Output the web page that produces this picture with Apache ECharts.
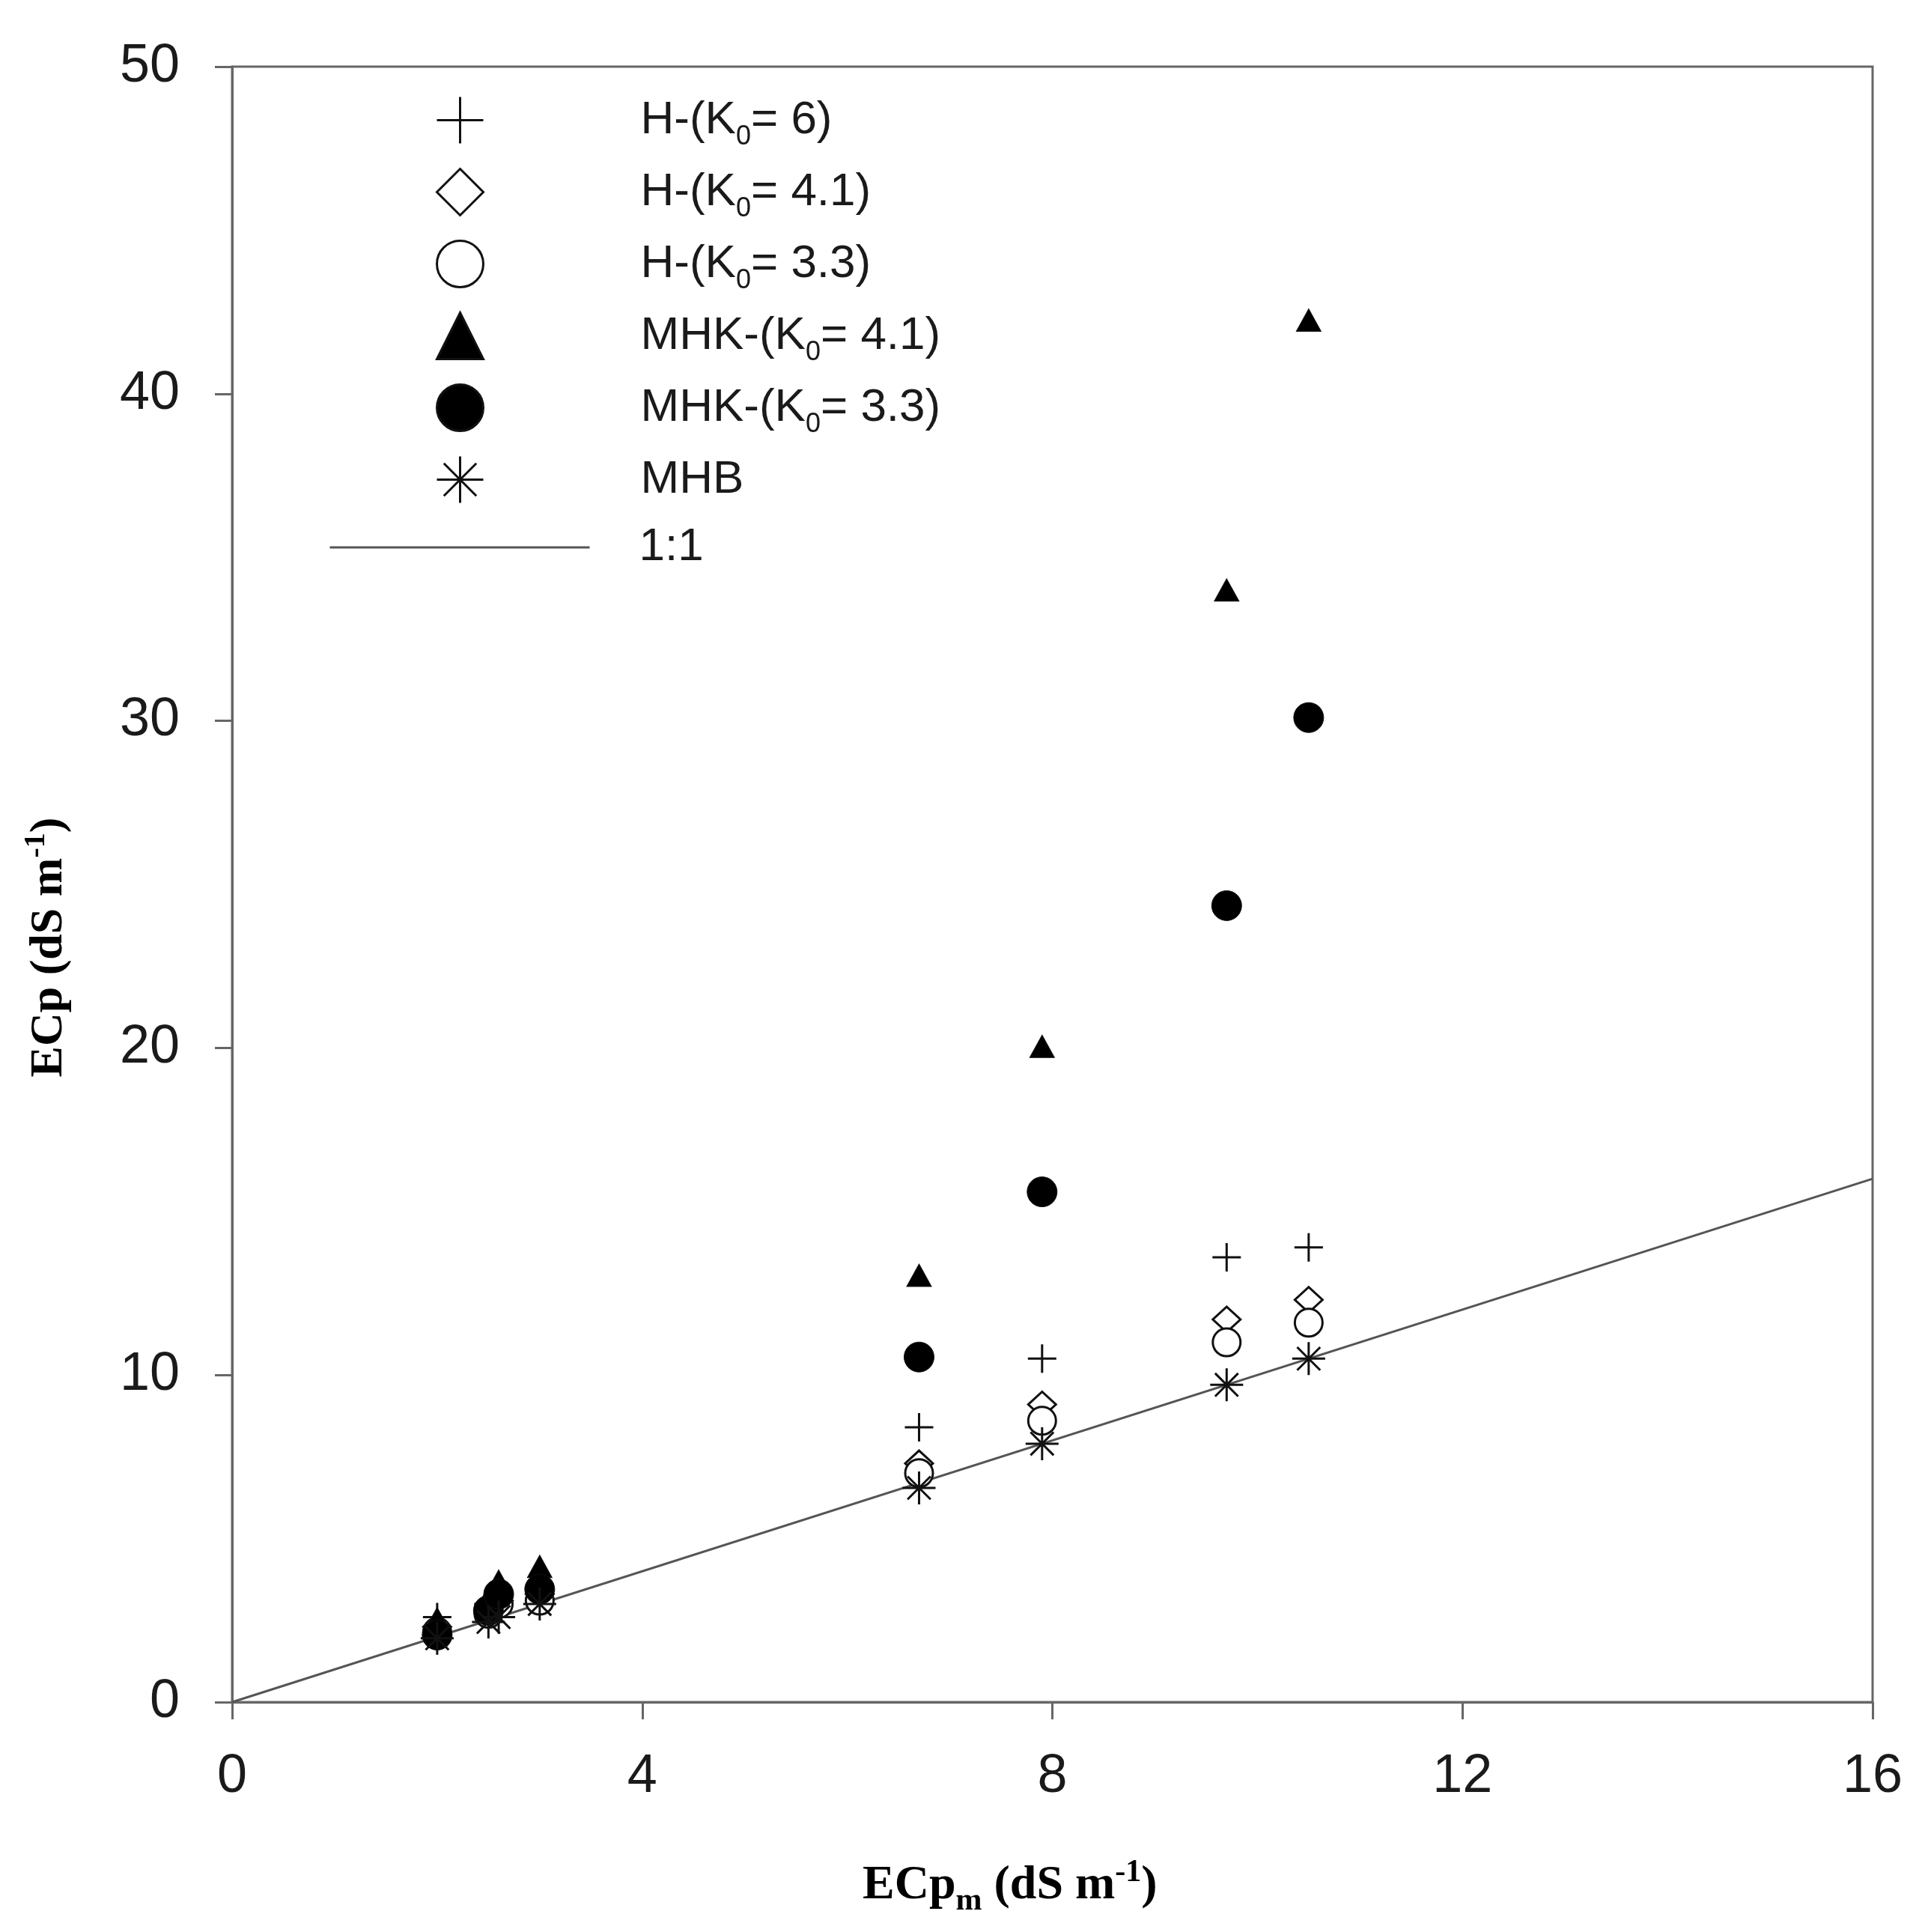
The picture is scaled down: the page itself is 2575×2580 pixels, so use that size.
<!DOCTYPE html>
<html>
<head>
<meta charset="utf-8">
<script src="https://cdn.jsdelivr.net/npm/echarts@6/dist/echarts.min.js"></script>
<style>
  html, body { margin: 0; padding: 0; background: #fff; }
  #chart { width: 2575px; height: 2580px; }
</style>
</head>
<body>
<div id="chart"></div>
<script>
// measured ECp (x) shared by all the model series
const ecpM = [2.0, 2.5, 2.6, 3.0, 6.7, 7.9, 9.7, 10.5];

// predicted ECp per model
const h6 = [2.6, 3.0, 3.3, 3.5, 8.4, 10.5, 13.6, 13.9];
const h41 = [2.3, 2.8, 3.1, 3.3, 7.3, 9.1, 11.7, 12.3];
const h33 = [2.15, 2.7, 3.0, 3.1, 7.0, 8.6, 11.0, 11.6];
const mhk41 = [2.55, 3.2, 3.7, 4.15, 13.05, 20.05, 34.0, 42.25];
const mhk33 = [2.05, 2.8, 3.3, 3.45, 10.55, 15.6, 24.35, 30.1];
const mhb = [1.95, 2.45, 2.6, 3.0, 6.55, 7.9, 9.7, 10.5];

// 1:1 reference line ends
const oneToOne = [0, 16];

const names = ["H-(K0= 6)", "H-(K0= 4.1)", "H-(K0= 3.3)", "MHK-(K0= 4.1)", "MHK-(K0= 3.3)", "MHB"];

const PLUS = "path://M10,0L10,20M0,10L20,10";
const STAR = "path://M10,0L10,20M0,10L20,10M3,3L17,17M17,3L3,17";

const pairs = (ys) => ecpM.map((x, i) => [x, ys[i]]);

const chart = echarts.init(document.getElementById("chart"));

const scatter = (name, ys, symbol, size, fill, bw) => ({
  name: name,
  type: "scatter",
  data: pairs(ys),
  symbol: symbol,
  symbolSize: size,
  itemStyle: { color: fill, borderColor: "#111", borderWidth: bw, opacity: 1 },
  z: 3,
});

const legendText = {
  fontSize: 62, lineHeight: 62, color: "#1a1a1a", fontFamily: "Liberation Sans",
};

chart.setOption({
  animation: false,
  backgroundColor: "#fff",
  grid: {
    left: 310, right: 74, top: 89, bottom: 307,
    show: true, borderColor: "#666", borderWidth: 3, backgroundColor: "transparent",
  },
  xAxis: {
    type: "value", min: 0, max: 16, interval: 4,
    axisLine: { show: true, lineStyle: { color: "#666", width: 3 } },
    axisTick: { show: true, inside: false, length: 23, lineStyle: { color: "#666", width: 3 } },
    axisLabel: { margin: 64, fontSize: 72, color: "#1a1a1a", fontFamily: "Liberation Sans" },
    splitLine: { show: false },
  },
  yAxis: {
    type: "value", min: 0, max: 50, interval: 10,
    axisLine: { show: true, lineStyle: { color: "#666", width: 3 } },
    axisTick: { show: true, inside: false, length: 23, lineStyle: { color: "#666", width: 3 } },
    axisLabel: { margin: 70, fontSize: 72, color: "#1a1a1a", fontFamily: "Liberation Sans" },
    splitLine: { show: false },
  },
  legend: [
    {
      orient: "vertical",
      left: 577, top: 123,
      itemWidth: 62, itemHeight: 62, itemGap: 22.5,
      itemStyle: { borderWidth: 3 },
      textStyle: Object.assign({}, legendText, {
        padding: [0, 0, 0, 205],
        rich: {
          sub: { fontSize: 36, lineHeight: 62, verticalAlign: "bottom", color: "#1a1a1a", fontFamily: "Liberation Sans", padding: [0, 0, -10, 0] },
        },
      }),
      formatter: (n) => n.replace("K0", "K{sub|0}"),
      data: [
        { name: names[0], icon: PLUS },
        { name: names[1], icon: "diamond" },
        { name: names[2], icon: "circle" },
        { name: names[3], icon: "triangle" },
        { name: names[4], icon: "circle" },
        { name: names[5], icon: STAR },
      ],
    },
    {
      orient: "vertical",
      left: 434, top: 695,
      itemWidth: 347, itemHeight: 62,
      lineStyle: { color: "#555", width: 3 },
      textStyle: Object.assign({}, legendText, { padding: [0, 0, 0, 61] }),
      data: [{ name: "1:1", itemStyle: { color: "transparent", borderColor: "transparent", borderWidth: 0 } }],
    },
  ],
  series: [
    {
      name: "1:1",
      type: "line",
      data: oneToOne.map((v) => [v, v]),
      symbol: "none",
      itemStyle: { color: "#555" },
      lineStyle: { color: "#555", width: 3 },
      z: 1,
    },
    scatter(names[0], h6, PLUS, 38, "transparent", 3),
    scatter(names[1], h41, "diamond", [37, 34], "#fff", 3),
    scatter(names[2], h33, "circle", 37, "#fff", 3),
    scatter(names[3], mhk41, "triangle", [33, 30], "#000", 1),
    scatter(names[4], mhk33, "circle", 40, "#000", 1),
    scatter(names[5], mhb, STAR, 44, "transparent", 3),
  ],
  graphic: [
    {
      type: "text",
      left: 1152, top: 2480,
      style: {
        text: "ECp{sub|m} (dS m{sup|-1})",
        font: "bold 64px 'Liberation Serif'",
        fill: "#000",
        rich: {
          sub: { font: "bold 42px 'Liberation Serif'", verticalAlign: "bottom", padding: [0, 0, -10, 0] },
          sup: { font: "bold 42px 'Liberation Serif'", verticalAlign: "top", padding: [-6, 0, 0, 0] },
        },
      },
    },
    {
      type: "text",
      x: 66, y: 1265,
      rotation: Math.PI / 2,
      style: {
        text: "ECp (dS m{sup|-1})",
        font: "bold 62px 'Liberation Serif'",
        fill: "#000",
        align: "center",
        verticalAlign: "middle",
        rich: {
          sup: { font: "bold 40px 'Liberation Serif'", verticalAlign: "top", padding: [-6, 0, 0, 0] },
        },
      },
    },
  ],
});
</script>
</body>
</html>
